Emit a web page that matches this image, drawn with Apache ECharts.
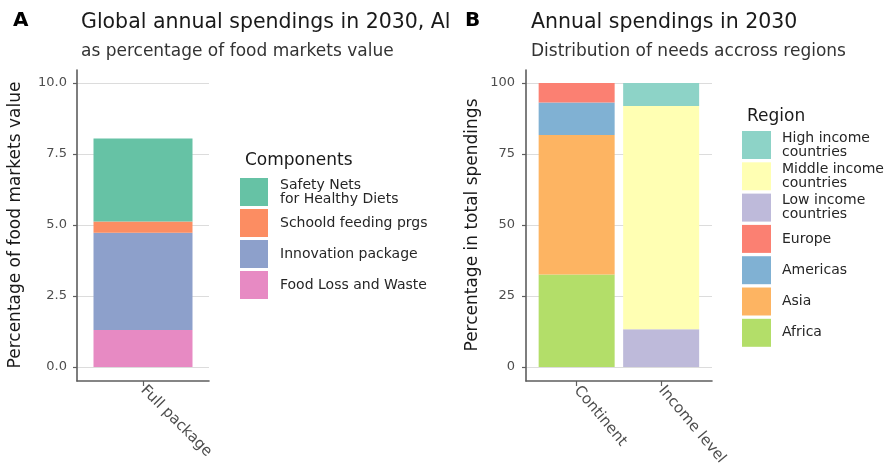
<!DOCTYPE html>
<html>
<head>
<meta charset="utf-8">
<script src="https://cdn.jsdelivr.net/npm/echarts@6/dist/echarts.min.js"></script>
<style>
html,body{margin:0;padding:0;background:#fff;}
#chart{width:889px;height:472px;}
</style>
</head>
<body>
<div id="chart"></div>
<script>
// ---- Panel A data ----
var aCategories = ['Full package'];
var aComponents = ['Food Loss and Waste', 'Innovation package', 'Schoold feeding prgs', 'Safety Nets\nfor Healthy Diets'];
var aValues = [1.30, 3.43, 0.39, 2.93];           // stacked bottom -> top
var aColors = ['#e78ac3', '#8da0cb', '#fc8d62', '#66c2a5'];
var aTicks = [0, 2.5, 5, 7.5, 10];

// ---- Panel B data ----
var bCategories = ['Continent', 'Income level'];
var bRegions = ['Africa', 'Asia', 'Americas', 'Europe', 'Low income\ncountries', 'Middle income\ncountries', 'High income\ncountries'];
var bContinent = [32.6, 49.1, 11.4, 6.9, 0, 0, 0];
var bIncome = [0, 0, 0, 0, 13.3, 78.6, 8.1];
var bColors = ['#b3de69', '#fdb462', '#80b1d3', '#fb8072', '#bebada', '#ffffb3', '#8dd3c7'];
var bTicks = [0, 25, 50, 75, 100];

var FONT = 'DejaVu Sans';
var axisLineStyle = { color: '#5e5e5e', width: 1.6 };
var tickStyle = { color: '#5e5e5e', width: 1.2 };

var chart = echarts.init(document.getElementById('chart'));

var series = [];
aComponents.forEach(function (name, i) {
  series.push({
    name: name, type: 'bar', stack: 'A', xAxisIndex: 1, yAxisIndex: 1,
    barWidth: 99, itemStyle: { color: aColors[i] },
    data: [aValues[i]]
  });
});
bRegions.forEach(function (name, i) {
  series.push({
    name: name, type: 'bar', stack: 'B', xAxisIndex: 4, yAxisIndex: 4,
    barWidth: 76, itemStyle: { color: bColors[i] },
    data: [bContinent[i], bIncome[i]]
  });
});

function catFormatter(cats) {
  return function (v) { return cats[Math.round(v) - 1] || ''; };
}
var hiddenY = function (grid, max) {
  return { gridIndex: grid, type: 'value', min: 0, max: max, show: false, splitLine: { show: false } };
};

var option = {
  animation: false,
  textStyle: { fontFamily: FONT },
  title: [
    { text: 'A', left: 8, top: 6, textStyle: { fontFamily: FONT, fontSize: 20, fontWeight: 'bold', color: '#000' } },
    { text: 'Global annual spendings in 2030, Al', left: 76, top: 7,
      textStyle: { fontFamily: FONT, fontSize: 20.5, fontWeight: 'normal', color: '#1a1a1a', width: 376, overflow: 'truncate', ellipsis: '' } },
    { text: 'as percentage of food markets value', left: 76, top: 38, textStyle: { fontFamily: FONT, fontSize: 17, fontWeight: 'normal', color: '#333' } },
    { text: 'B', left: 460, top: 6, textStyle: { fontFamily: FONT, fontSize: 20, fontWeight: 'bold', color: '#000' } },
    { text: 'Annual spendings in 2030', left: 526, top: 7, textStyle: { fontFamily: FONT, fontSize: 20.5, fontWeight: 'normal', color: '#1a1a1a' } },
    { text: 'Distribution of needs accross regions', left: 526, top: 38, textStyle: { fontFamily: FONT, fontSize: 17, fontWeight: 'normal', color: '#333' } },
    { text: 'Components', left: 240, top: 147, textStyle: { fontFamily: FONT, fontSize: 17, fontWeight: 'normal', color: '#1a1a1a' } },
    { text: 'Region', left: 742, top: 103, textStyle: { fontFamily: FONT, fontSize: 17, fontWeight: 'normal', color: '#1a1a1a' } }
  ],
  legend: [
    { data: aComponents.slice().reverse(), orient: 'vertical', left: 240, top: 178, padding: 0,
      itemWidth: 28, itemHeight: 28, itemGap: 3, icon: 'rect', selectedMode: false,
      textStyle: { fontFamily: FONT, fontSize: 14, lineHeight: 14, color: '#262626', padding: [0, 0, 0, 7] } },
    { data: bRegions.slice().reverse(), orient: 'vertical', left: 742, top: 131, padding: 0,
      itemWidth: 29, itemHeight: 28, itemGap: 3.3, icon: 'rect', selectedMode: false,
      textStyle: { fontFamily: FONT, fontSize: 14, lineHeight: 14, color: '#262626', padding: [0, 0, 0, 6] } }
  ],
  grid: [
    { left: 77, top: 70, width: 132, height: 311 },     // 0: A axis lines
    { left: 77, top: 83, width: 132, height: 284 },     // 1: A bars + y labels
    { left: 526, top: 70, width: 186, height: 311 },    // 2: B axis lines
    { left: 526, top: 83, width: 186, height: 284 },    // 3: B y labels + grid lines
    { left: 534.4, top: 83, width: 169, height: 284 }   // 4: B bars
  ],
  xAxis: [
    { gridIndex: 0, type: 'value', min: 0.4, max: 1.6,
      axisLine: { show: true, lineStyle: axisLineStyle },
      axisTick: { show: true, length: 5, lineStyle: tickStyle, customValues: [1] },
      axisLabel: { show: true, customValues: [1], formatter: catFormatter(aCategories), rotate: -45, margin: 7,
        fontFamily: FONT, fontSize: 15, color: '#4d4d4d' },
      splitLine: { show: false } },
    { gridIndex: 1, type: 'category', data: aCategories, show: false },
    { gridIndex: 2, type: 'value', min: 0.4, max: 2.6,
      axisLine: { show: true, lineStyle: axisLineStyle },
      axisTick: { show: true, length: 5, lineStyle: tickStyle, customValues: [1, 2] },
      axisLabel: { show: true, customValues: [1, 2], formatter: catFormatter(bCategories), rotate: -50, margin: 7,
        fontFamily: FONT, fontSize: 15, color: '#4d4d4d' },
      splitLine: { show: false } },
    { gridIndex: 3, type: 'value', min: 0, max: 1, show: false },
    { gridIndex: 4, type: 'category', data: bCategories, show: false }
  ],
  yAxis: [
    { gridIndex: 0, type: 'value', min: 0, max: 1,
      axisLine: { show: true, lineStyle: axisLineStyle },
      axisTick: { show: false }, axisLabel: { show: false }, splitLine: { show: false } },
    { gridIndex: 1, type: 'value', min: aTicks[0], max: aTicks[aTicks.length - 1], interval: aTicks[1] - aTicks[0],
      name: 'Percentage of food markets value', nameLocation: 'middle', nameGap: 53,
      nameTextStyle: { fontFamily: FONT, fontSize: 17, color: '#1a1a1a' },
      axisLine: { show: false },
      axisTick: { show: true, length: 4, lineStyle: tickStyle },
      axisLabel: { margin: 10, fontFamily: FONT, fontSize: 13, color: '#4d4d4d',
        formatter: function (v) { return v.toFixed(1); } },
      splitLine: { show: true, lineStyle: { color: '#dcdcdc', width: 1.2 } } },
    { gridIndex: 2, type: 'value', min: 0, max: 1,
      axisLine: { show: true, lineStyle: axisLineStyle },
      axisTick: { show: false }, axisLabel: { show: false }, splitLine: { show: false } },
    { gridIndex: 3, type: 'value', min: bTicks[0], max: bTicks[bTicks.length - 1], interval: bTicks[1] - bTicks[0],
      name: 'Percentage in total spendings', nameLocation: 'middle', nameGap: 45,
      nameTextStyle: { fontFamily: FONT, fontSize: 17, color: '#1a1a1a' },
      axisLine: { show: false },
      axisTick: { show: true, length: 4, lineStyle: tickStyle },
      axisLabel: { margin: 11, fontFamily: FONT, fontSize: 13, color: '#4d4d4d' },
      splitLine: { show: true, lineStyle: { color: '#dcdcdc', width: 1.2 } } },
    hiddenY(4, bTicks[bTicks.length - 1])
  ],
  series: series
};
chart.setOption(option);
</script>
</body>
</html>
